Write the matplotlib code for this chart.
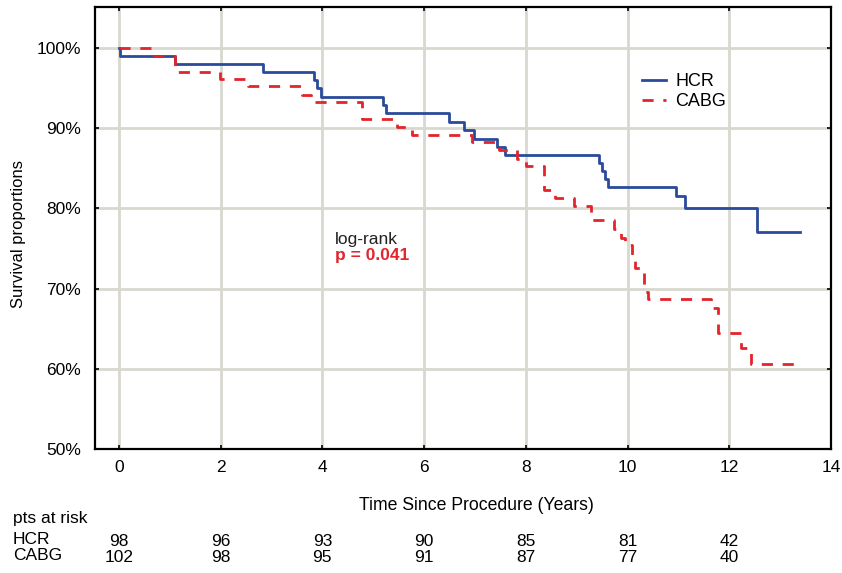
#!/usr/bin/env python3
'''Kaplan-Meier plot, HCR vs CABG'''
import matplotlib
matplotlib.use('Agg')
import matplotlib.pyplot as plt

# step data: time (years) and survival (%)
hcr_t = [0, 0.02, 1.1, 2.84, 3.84, 3.9, 3.97, 5.2, 5.26, 6.49, 6.78, 6.98,
         7.43, 7.6, 9.43, 9.5, 9.56, 9.62, 10.96, 11.13, 12.55, 13.4]
hcr_s = [100, 99.0, 98.0, 97.0, 96.0, 95.0, 93.9, 92.9, 91.9, 90.8, 89.8, 88.7,
         87.7, 86.7, 85.6, 84.7, 83.7, 82.6, 81.5, 80.0, 77.1, 77.1]

cabg_t = [0, 0.69, 1.1, 1.98, 2.53, 3.59, 3.78, 4.78, 5.47, 5.77, 6.94, 7.47,
          7.82, 8.0, 8.35, 8.57, 8.94, 9.29, 9.73, 9.88, 9.95, 10.08, 10.15,
          10.33, 10.4, 11.65, 11.78, 12.24, 12.43, 13.4]
cabg_s = [100, 99.0, 97.0, 96.1, 95.2, 94.1, 93.2, 91.2, 90.2, 89.2, 88.3, 87.3,
          86.2, 85.3, 82.3, 81.3, 80.3, 78.5, 77.4, 76.3, 75.4, 74.0, 72.6,
          69.6, 68.7, 67.6, 64.4, 62.6, 60.6, 60.6]

risk_years = [0, 2, 4, 6, 8, 10, 12]
risk_hcr = [98, 96, 93, 90, 85, 81, 42]
risk_cabg = [102, 98, 95, 91, 87, 77, 40]

plt.rcParams['font.family'] = ['Liberation Sans', 'DejaVu Sans']

fig = plt.figure(figsize=(8.42, 5.73), dpi=100)
ax = fig.add_axes([95 / 842, 1 - 449 / 573, (831 - 95) / 842, (449 - 7) / 573])

blue = '#2a4b9b'
red = '#e2242b'
ax.step(hcr_t, hcr_s, where='post', color=blue, lw=2.0, label='HCR', zorder=3)
ax.step(cabg_t, cabg_s, where='post', color=red, lw=2.0, ls=(0, (4, 3.5)),
        label='CABG', zorder=3)

ax.set_xlim(-0.47, 14)
ax.set_ylim(50, 105.1)
ax.set_xticks(range(0, 15, 2))
ax.set_yticks(range(50, 101, 10))
ax.set_yticklabels([f'{v}%' for v in range(50, 101, 10)])
ax.grid(True, color='#d8d8d0', lw=2.0, zorder=0)
ax.tick_params(direction='in', length=3, width=1.2, top=True, right=True,
               labelsize=12.5, colors='black', pad=8)
ax.tick_params(axis='y', pad=10)
for sp in ax.spines.values():
    sp.set_linewidth(1.6)

ax.legend(loc='upper left', bbox_to_anchor=(0.721, 0.887), frameon=False,
          fontsize=13, handlelength=1.35, handletextpad=0.5, labelspacing=0.15)

ax.text(4.24, 75.6, 'log-rank', fontsize=12.5, color='#222222')
ax.text(4.24, 73.5, 'p = 0.041', fontsize=12.5, color=red, fontweight='bold')

fig.text(476 / 842, 1 - 505 / 573, 'Time Since Procedure (Years)',
         ha='center', va='center', fontsize=12.7)
fig.text(19 / 842, 1 - 234 / 573, 'Survival proportions', rotation=90,
         ha='center', va='center', fontsize=12)

# patients at risk table under the axis
fig.text(13 / 842, 1 - 518 / 573, 'pts at risk', ha='left', va='center', fontsize=12.5)
fig.text(13 / 842, 1 - 540 / 573, 'HCR', ha='left', va='center', fontsize=12.5)
fig.text(13 / 842, 1 - 556 / 573, 'CABG', ha='left', va='center', fontsize=12.5)
trans = ax.get_xaxis_transform()
for yr, nh, nc in zip(risk_years, risk_hcr, risk_cabg):
    ax.text(yr, -(542 - 449) / 442, str(nh), transform=trans, ha='center',
            va='center', fontsize=12.5, clip_on=False)
    ax.text(yr, -(558 - 449) / 442, str(nc), transform=trans, ha='center',
            va='center', fontsize=12.5, clip_on=False)

fig.savefig('out.png', dpi=100)
